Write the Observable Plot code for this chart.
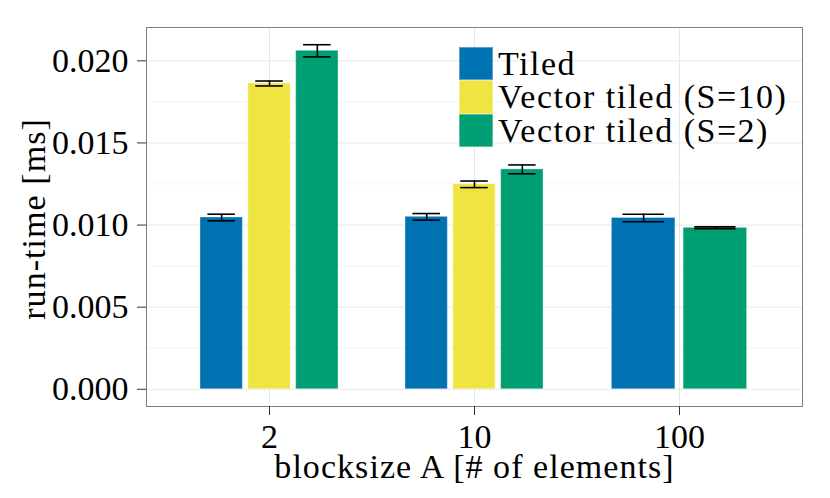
<!DOCTYPE html>
<html>
<head>
<meta charset="utf-8">
<script src="https://cdn.jsdelivr.net/npm/d3@7"></script>
<script src="https://cdn.jsdelivr.net/npm/@observablehq/plot@0.6"></script>
<style>
  body { margin: 0; background: #fff; }
  #wrap { position: relative; width: 830px; height: 498px; font-family: "Liberation Serif", serif; }
  #legend { position: absolute; left: 459px; top: 47px; }
  .row { display: flex; align-items: flex-start; height: 33.33px; }
  .sw { width: 34px; height: 33.33px; box-sizing: border-box; border: 1px solid rgba(255,255,255,0.35); }
  .lab { display: block; height: 33.33px; overflow: visible; margin-left: 5px; font-size: 34px; line-height: 33.33px; letter-spacing: 1.5px; color: #000; white-space: nowrap; }
</style>
</head>
<body>
<div id="wrap"><div id="legend"></div></div>
<script>
// ---- data ----
const categories = ["2", "10", "100"];
const series = ["Tiled", "Vector tiled (S=10)", "Vector tiled (S=2)"];
const colors = ["#0072B2", "#F0E442", "#009E73"];
const tiled      = [0.01046, 0.01050, 0.01043];
const tiledErr   = [0.00020, 0.00020, 0.00023];
const vecS10     = [0.01862, 0.01248, null];
const vecS10Err  = [0.00015, 0.00020, null];
const vecS2      = [0.02061, 0.01339, 0.00983];
const vecS2Err   = [0.00037, 0.00027, 0.00006];
const yTicks = [0, 0.005, 0.010, 0.015, 0.020];
const yMinor = [0.0025, 0.0075, 0.0125, 0.0175];
const xTitle = "blocksize A [# of elements]";
const yTitle = "run-time [ms]";

// ---- build table (dodge within each category) ----
const values = [tiled, vecS10, vecS2];
const errs = [tiledErr, vecS10Err, vecS2Err];
const groupSpan = 0.70, barFrac = 0.885, capFrac = 0.65;
const rows = [];
categories.forEach((cat, ci) => {
  const present = series.map((s, si) => ({s, v: values[si][ci], e: errs[si][ci]})).filter(d => d.v != null);
  const k = present.length;
  const pitch = groupSpan / k;
  present.forEach((d, j) => {
    const c = ci - groupSpan / 2 + j * pitch + pitch / 2;
    const half = pitch * barFrac / 2;
    rows.push({category: cat, series: d.s, value: d.v, lo: d.v - d.e, hi: d.v + d.e,
      x1: c - half, x2: c + half, xc: c, cap1: c - half * capFrac, cap2: c + half * capFrac});
  });
});
const yMax = d3.max(rows, d => d.hi);
const pad = 0.05 * yMax;
const xIdx = categories.map((_, i) => i);

const chart = Plot.plot({
  width: 830, height: 498,
  marginLeft: 146, marginRight: 28, marginTop: 27, marginBottom: 92,
  style: {fontFamily: "Liberation Serif, serif", fontSize: "34px", background: "white", color: "black"},
  x: {domain: [-0.6, categories.length - 1 + 0.6], label: null},
  y: {domain: [-pad, yMax + pad], label: null},
  color: {domain: series, range: colors},
  marks: [
    Plot.gridY(yMinor, {stroke: "#f4f4f4", strokeOpacity: 1, strokeWidth: 1}),
    Plot.gridY(yTicks, {stroke: "#e8e8e8", strokeOpacity: 1, strokeWidth: 1}),
    Plot.gridX(xIdx, {stroke: "#e8e8e8", strokeOpacity: 1, strokeWidth: 1}),
    Plot.rect(rows, {x1: "x1", x2: "x2", y1: 0, y2: "value", fill: "series", stroke: "white", strokeOpacity: 0.35, strokeWidth: 1}),
    Plot.ruleX(rows, {x: "xc", y1: "lo", y2: "hi", stroke: "black", strokeWidth: 1.6}),
    Plot.ruleY(rows, {y: "lo", x1: "cap1", x2: "cap2", stroke: "black", strokeWidth: 1.6}),
    Plot.ruleY(rows, {y: "hi", x1: "cap1", x2: "cap2", stroke: "black", strokeWidth: 1.6}),
    Plot.frame({stroke: "#7f7f7f", strokeWidth: 1}),
    Plot.axisY(yTicks, {tickFormat: d3.format(".3f"), tickSize: 9, tickPadding: 9, fontSize: 34, label: null, stroke: "#333"}),
    Plot.axisX(xIdx, {tickFormat: i => categories[i], tickSize: 9, tickPadding: 8, fontSize: 34, label: null, stroke: "#333"}),
    Plot.text([yTitle], {text: d => d, frameAnchor: "left", rotate: -90, dx: -112, dy: 2, lineAnchor: "middle", textAnchor: "middle", fontSize: 34, fill: "black"}),
    Plot.text([xTitle], {text: d => d, frameAnchor: "bottom", dy: 61, lineAnchor: "middle", textAnchor: "middle", fontSize: 34, fill: "black"})
  ]
});
d3.select(chart).selectAll('g[aria-label="text"] text').attr("letter-spacing", "1.05px");
const wrap = document.getElementById("wrap");
wrap.insertBefore(chart, wrap.firstChild);

const legend = document.getElementById("legend");
series.forEach((s, i) => {
  const row = document.createElement("div");
  row.className = "row";
  const sw = document.createElement("div");
  sw.className = "sw";
  sw.style.background = colors[i];
  const lab = document.createElement("span");
  lab.className = "lab";
  lab.textContent = s;
  row.appendChild(sw);
  row.appendChild(lab);
  legend.appendChild(row);
});
</script>
</body>
</html>
